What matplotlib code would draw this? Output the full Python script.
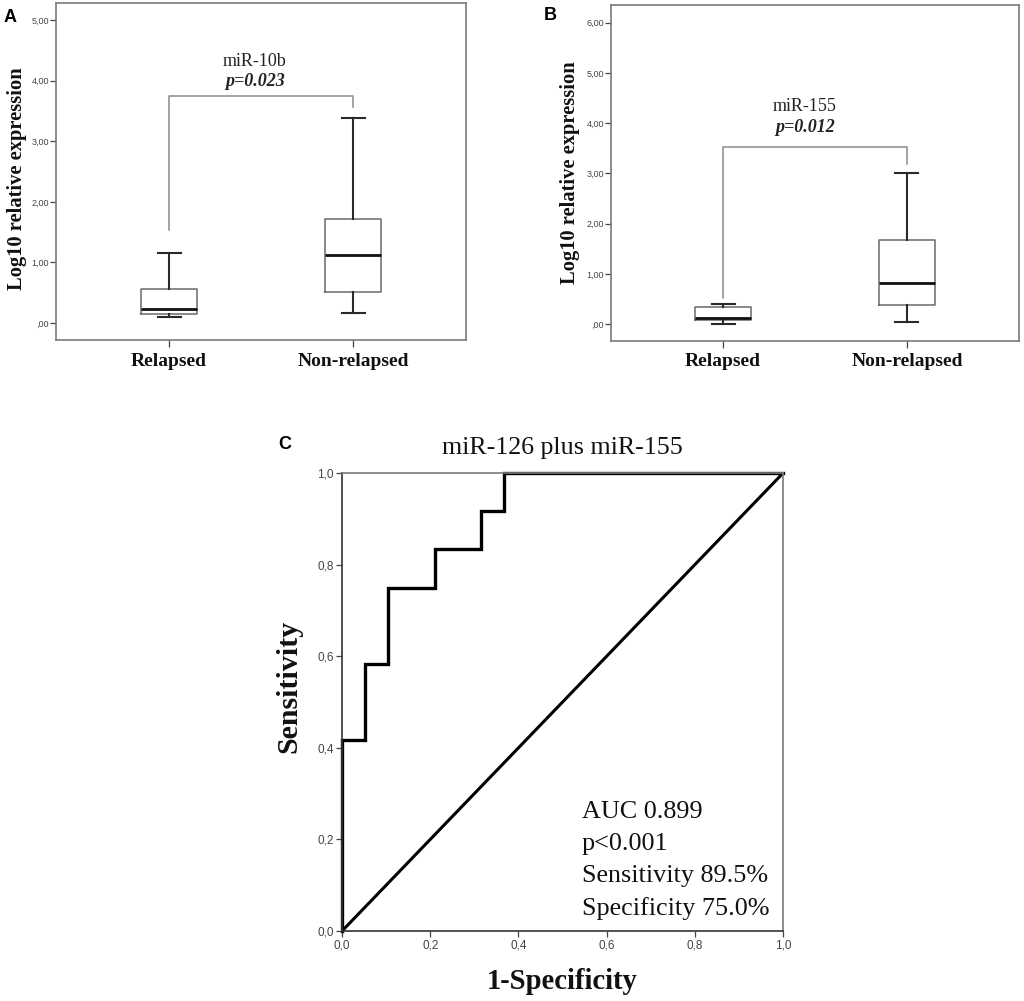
import matplotlib
matplotlib.use("Agg")
import matplotlib.pyplot as plt

# ---------------- data ----------------
groups = ["Relapsed", "Non-relapsed"]

# Panel A: miR-10b box statistics (whislo, q1, med, q3, whishi)
a_whislo = [0.105, 0.17]
a_q1 = [0.15, 0.51]
a_med = [0.226, 1.117]
a_q3 = [0.566, 1.72]
a_whishi = [1.155, 3.38]
a_label = "miR-10b"
a_p = "p=0.023"
a_bracket_top = 3.74
a_bracket_legs = [1.53, 3.57]
a_yticks = [0, 1, 2, 3, 4, 5]
a_yticklabels = [",00", "1,00", "2,00", "3,00", "4,00", "5,00"]

# Panel B: miR-155 box statistics
b_whislo = [0.0, 0.05]
b_q1 = [0.085, 0.39]
b_med = [0.13, 0.82]
b_q3 = [0.34, 1.68]
b_whishi = [0.40, 3.01]
b_label = "miR-155"
b_p = "p=0.012"
b_bracket_top = 3.52
b_bracket_legs = [0.52, 3.18]
b_yticks = [0, 1, 2, 3, 4, 5, 6]
b_yticklabels = [",00", "1,00", "2,00", "3,00", "4,00", "5,00", "6,00"]

# Panel C: ROC curve
roc_fpr = [0.0, 0.0, 0.0526, 0.0526, 0.1053, 0.1053, 0.2105, 0.2105,
           0.3158, 0.3158, 0.3684, 0.3684, 1.0]
roc_tpr = [0.0, 0.4167, 0.4167, 0.5833, 0.5833, 0.75, 0.75, 0.8333,
           0.8333, 0.9167, 0.9167, 1.0, 1.0]
ref_x = [0.0, 1.0]
ref_y = [0.0, 1.0]
c_title = "miR-126 plus miR-155"
c_stats = ["AUC 0.899", "p<0.001", "Sensitivity 89.5%", "Specificity 75.0%"]
c_ticks = [0.0, 0.2, 0.4, 0.6, 0.8, 1.0]
c_ticklabels = ["0,0", "0,2", "0,4", "0,6", "0,8", "1,0"]

# ---------------- style ----------------
SERIF = ["Liberation Serif", "DejaVu Serif"]
SANS = ["Liberation Sans", "DejaVu Sans"]
plt.rcParams["font.family"] = SANS

fig = plt.figure(figsize=(10.24, 10.01), dpi=100)
fig.patch.set_facecolor("white")

frame_gray = "#7a7a7a"
tick_gray = "#444444"


def box_panel(ax, whislo, q1, med, q3, whishi, label, ptxt, btop, blegs,
              yticks, yticklabels, ylim, xlim, txt_x, txt_y1, txt_y2,
              ylab_x, ylab_y):
    stats = []
    for i in range(len(groups)):
        stats.append(dict(whislo=whislo[i], q1=q1[i], med=med[i], q3=q3[i],
                          whishi=whishi[i], fliers=[]))
    ax.bxp(stats, positions=[1, 2], widths=0.3, capwidths=0.125,
           showfliers=False,
           boxprops=dict(color="#6a6a6a", linewidth=1.1),
           medianprops=dict(color="#111111", linewidth=2.0),
           whiskerprops=dict(color="#2a2a2a", linewidth=1.5),
           capprops=dict(color="#2a2a2a", linewidth=1.5))
    ax.plot([1, 1, 2, 2], [blegs[0], btop, btop, blegs[1]],
            color="#8a8a8a", linewidth=1.1)
    ax.text(txt_x, txt_y1, label, family=SERIF, fontsize=13,
            ha="center", va="center", color="#222222")
    ax.text(txt_x, txt_y2, ptxt, family=SERIF, fontsize=13, weight="bold",
            style="italic", ha="center", va="center", color="#222222")
    ax.set_xlim(*xlim)
    ax.set_ylim(*ylim)
    ax.set_yticks(yticks)
    ax.set_yticklabels(yticklabels, fontsize=6.5, color=tick_gray)
    ax.set_xticks([1, 2])
    ax.set_xticklabels(groups, family=SERIF, fontsize=14, weight="bold",
                       color="#111111")
    ax.tick_params(axis="y", length=4, width=0.9, color=tick_gray, pad=1)
    ax.tick_params(axis="x", length=5, width=0.9, color=tick_gray, pad=4)
    ax.set_ylabel("Log10 relative expression", family=SERIF, fontsize=14.8,
                  weight="bold", color="#111111")
    ax.yaxis.set_label_coords(ylab_x, ylab_y)
    for s in ax.spines.values():
        s.set_color(frame_gray)
        s.set_linewidth(1.2)


axA = fig.add_axes([0.0547, 0.6603, 0.4004, 0.3367])
box_panel(axA, a_whislo, a_q1, a_med, a_q3, a_whishi, a_label, a_p,
          a_bracket_top, a_bracket_legs, a_yticks, a_yticklabels,
          (-0.28, 5.28), (0.386, 2.614), 1.467, 4.31, 3.98, -0.071, 0.48)

axB = fig.add_axes([0.5967, 0.6596, 0.3984, 0.3354])
box_panel(axB, b_whislo, b_q1, b_med, b_q3, b_whishi, b_label, b_p,
          b_bracket_top, b_bracket_legs, b_yticks, b_yticklabels,
          (-0.33, 6.35), (0.391, 2.609), 1.446, 4.34, 3.905, -0.076, 0.5)

# Panel C
axC = fig.add_axes([0.334, 0.0699, 0.4307, 0.4575])
axC.plot(ref_x, ref_y, color="black", linewidth=2.2, clip_on=False,
         solid_capstyle="butt")
axC.plot(roc_fpr, roc_tpr, color="black", linewidth=2.4, clip_on=False,
         solid_joinstyle="miter")
axC.set_xlim(0, 1)
axC.set_ylim(0, 1)
axC.set_xticks(c_ticks)
axC.set_xticklabels(c_ticklabels, fontsize=8.5, color=tick_gray)
axC.set_yticks(c_ticks)
axC.set_yticklabels(c_ticklabels, fontsize=8.5, color=tick_gray)
axC.tick_params(length=4, width=0.9, color=tick_gray, pad=2)
axC.set_title(c_title, family=SERIF, fontsize=18.7, color="#111111", pad=14)
axC.set_ylabel("Sensitivity", family=SERIF, fontsize=21.5, weight="bold",
               color="#111111")
axC.yaxis.set_label_coords(-0.091, 0.535)
axC.set_xlabel("1-Specificity", family=SERIF, fontsize=20.6, weight="bold",
               color="#111111")
axC.xaxis.set_label_coords(0.5, -0.081)
for k, line in enumerate(c_stats):
    axC.text(0.544, 0.26 - k * 0.0703, line, family=SERIF, fontsize=18.8,
             ha="left", va="center", color="#111111")
for name, s in axC.spines.items():
    s.set_linewidth(1.2)
    s.set_color("#333333" if name in ("left", "bottom") else frame_gray)

# Panel letters
fig.text(10 / 1024, 1 - 17 / 1001, "A", family=SANS, fontsize=13,
         weight="bold", ha="center", va="center")
fig.text(550 / 1024, 1 - 16 / 1001, "B", family=SANS, fontsize=13,
         weight="bold", ha="center", va="center")
fig.text(285 / 1024, 1 - 445 / 1001, "C", family=SANS, fontsize=13,
         weight="bold", ha="center", va="center")

fig.savefig("out.png", dpi=100, facecolor="white")
